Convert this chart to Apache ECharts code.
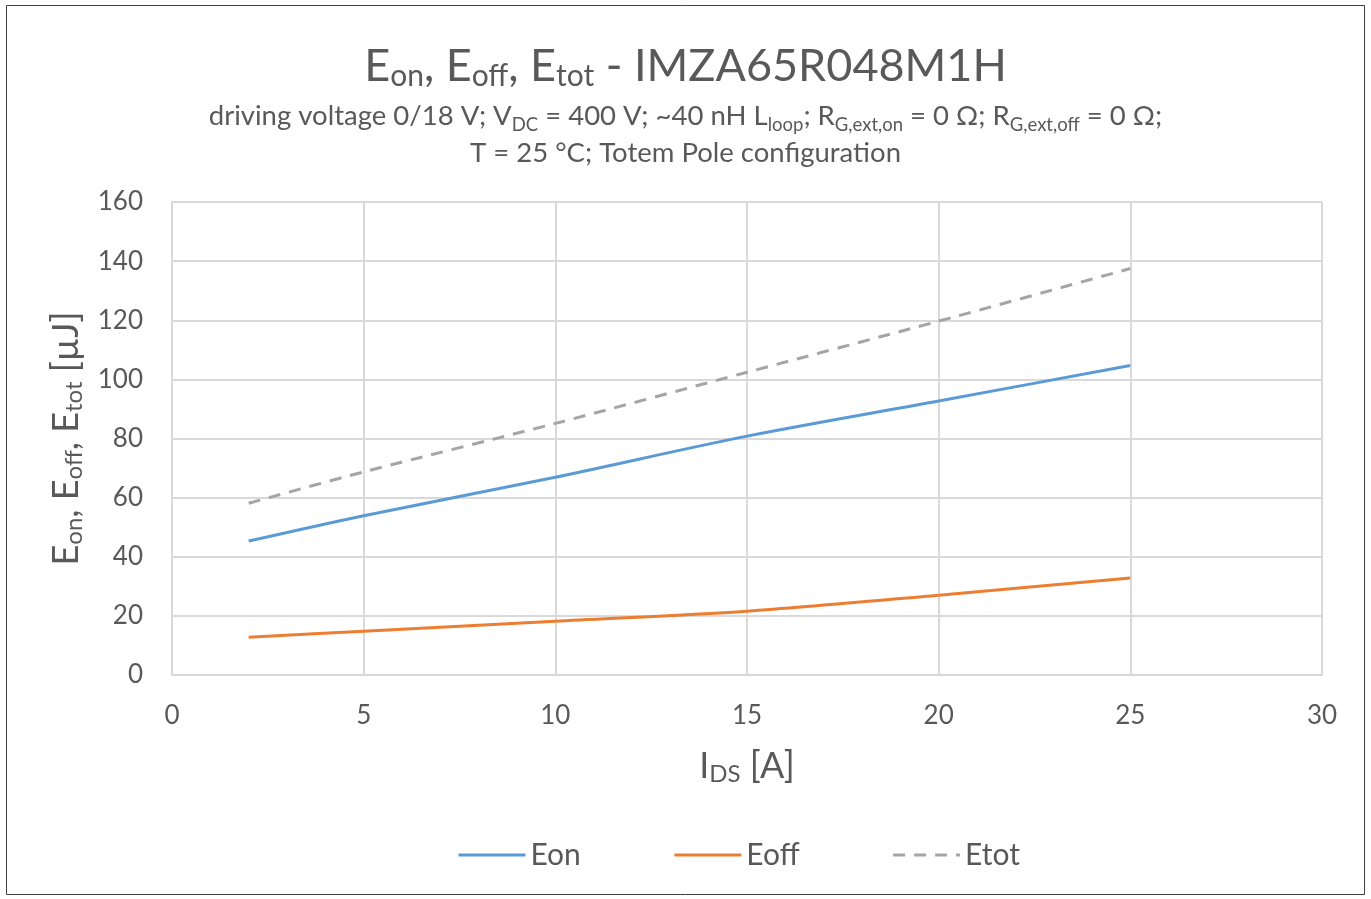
<!DOCTYPE html>
<html>
<head>
<meta charset="utf-8">
<script src="https://cdn.jsdelivr.net/npm/echarts@6/dist/echarts.min.js"></script>
<style>
html,body{margin:0;padding:0;background:#fff;}
#chart{width:1371px;height:899px;}
</style>
</head>
<body>
<div id="chart"></div>
<script>
const ids = [2, 5, 10, 15, 20, 25];
const eon = [45.3, 53.9, 66.9, 80.8, 92.7, 104.7];
const eoff = [12.8, 14.8, 18.2, 21.6, 27.0, 32.8];
const etot = [58.1, 68.7, 85.1, 102.4, 119.7, 137.5];
const seriesNames = ['Eon', 'Eoff', 'Etot'];
const xTicks = [0, 5, 10, 15, 20, 25, 30];
const yTicks = [0, 20, 40, 60, 80, 100, 120, 140, 160];

const FONT = 'Lato';
const TXT = '#595959';
const chart = echarts.init(document.getElementById('chart'));

function pairs(xs, ys) { return xs.map((x, i) => [x, ys[i]]); }

chart.setOption({
  animation: false,
  textStyle: { fontFamily: FONT, color: TXT },
  title: [
    {
      left: 'center', top: 36,
      text: 'E{s|on}, E{s|off}, E{s|tot} - IMZA65R048M1H',
      textStyle: {
        fontFamily: FONT, fontSize: 45, fontWeight: 'normal', color: TXT, lineHeight: 50,
        rich: {
          s: { fontFamily: FONT, fontSize: 30, color: TXT, verticalAlign: 'bottom', lineHeight: 20 }
        }
      }
    },
    {
      left: 'center', top: 93,
      text: 'driving voltage 0/18 V; V{s|DC} = 400 V; ~40 nH L{s|loop}; R{s|G,ext,on} = 0 Ω; R{s|G,ext,off} = 0 Ω;\nT = 25 °C; Totem Pole configuration',
      textStyle: {
        fontFamily: FONT, fontSize: 27.5, fontWeight: 'normal', color: TXT, lineHeight: 37,
        rich: {
          s: { fontFamily: FONT, fontSize: 18.5, color: TXT, verticalAlign: 'bottom', lineHeight: 18 }
        }
      }
    }
  ],
  graphic: [
    {
      type: 'rect', silent: true,
      shape: { x: 6.5, y: 5.5, width: 1358, height: 889 },
      style: { fill: 'none', stroke: '#404040', lineWidth: 1 }
    }
  ],
  grid: { left: 172, right: 49, top: 202, bottom: 224, containLabel: false },
  legend: {
    left: 452, top: 835,
    itemWidth: 67, itemHeight: 14, itemGap: 92,
    itemStyle: { opacity: 0 },
    lineStyle: { width: 3 },
    textStyle: { fontFamily: FONT, fontSize: 30, color: TXT },
    data: seriesNames
  },
  xAxis: {
    type: 'value', min: xTicks[0], max: xTicks[xTicks.length - 1], interval: 5,
    name: 'I{s|DS} [A]', nameLocation: 'middle', nameGap: 71,
    nameTextStyle: {
      fontFamily: FONT, fontSize: 36, color: TXT, lineHeight: 40,
      rich: { s: { fontFamily: FONT, fontSize: 24, color: TXT, verticalAlign: 'bottom', lineHeight: 18 } }
    },
    axisLine: { show: true, lineStyle: { color: '#d9d9d9', width: 2 } },
    axisTick: { show: false },
    axisLabel: { fontFamily: FONT, fontSize: 26, color: TXT, margin: 28 },
    splitLine: { show: true, lineStyle: { color: '#d9d9d9', width: 2 } }
  },
  yAxis: {
    type: 'value', min: yTicks[0], max: yTicks[yTicks.length - 1], interval: 20,
    name: 'E{s|on}, E{s|off}, E{s|tot} [µJ]', nameLocation: 'middle', nameGap: 86, nameRotate: 90,
    nameTextStyle: {
      fontFamily: FONT, fontSize: 36, color: TXT, lineHeight: 40,
      rich: { s: { fontFamily: FONT, fontSize: 24, color: TXT, verticalAlign: 'bottom', lineHeight: 18 } }
    },
    axisLine: { show: true, lineStyle: { color: '#d9d9d9', width: 2 } },
    axisTick: { show: false },
    axisLabel: { fontFamily: FONT, fontSize: 26, color: TXT, margin: 29 },
    splitLine: { show: true, lineStyle: { color: '#d9d9d9', width: 2 } }
  },
  series: [
    {
      name: seriesNames[0], type: 'line', data: pairs(ids, eon), smooth: 0.3,
      symbol: 'none', lineStyle: { color: '#5b9bd5', width: 3 }, itemStyle: { color: '#5b9bd5' }
    },
    {
      name: seriesNames[1], type: 'line', data: pairs(ids, eoff), smooth: 0.3,
      symbol: 'none', lineStyle: { color: '#ed7d31', width: 3 }, itemStyle: { color: '#ed7d31' }
    },
    {
      name: seriesNames[2], type: 'line', data: pairs(ids, etot), smooth: 0.3,
      symbol: 'none', lineStyle: { color: '#a5a5a5', width: 3, type: [12, 9] }, itemStyle: { color: '#a5a5a5' }
    }
  ]
});
</script>
</body>
</html>
